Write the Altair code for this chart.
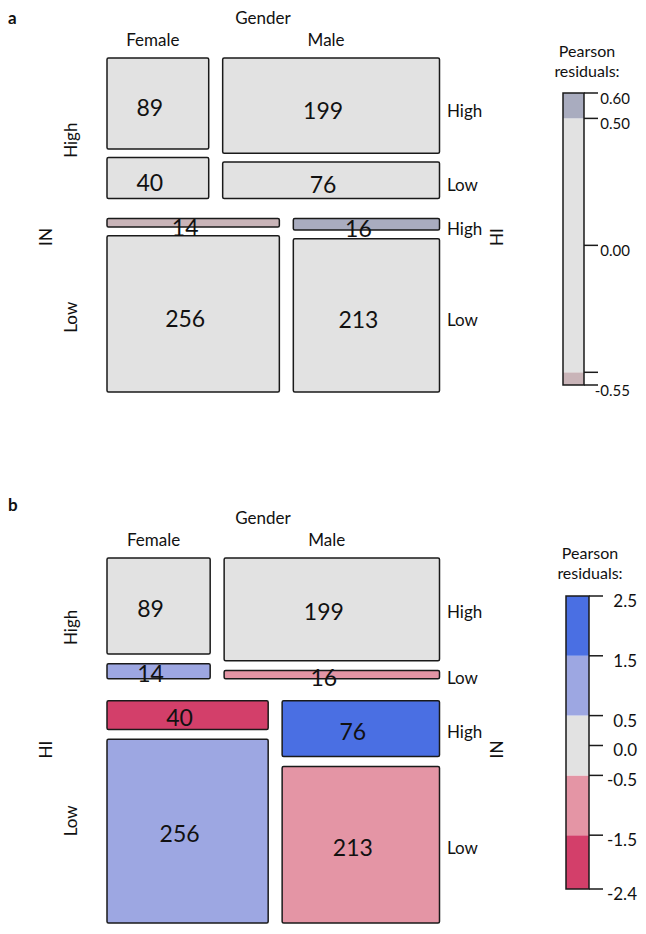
import altair as alt
import pandas as pd

FONT = "Lato"
INK = "#111111"

genders = ["Female", "Male"]
levels = ["High", "Low"]

# ---------------- Panel a: rows = IN, columns = Gender, sub-rows = HI
a_row = ["High", "High", "High", "High", "Low", "Low", "Low", "Low"]
a_gender = ["Female", "Female", "Male", "Male", "Female", "Female", "Male", "Male"]
a_sub = ["High", "Low", "High", "Low", "High", "Low", "High", "Low"]
a_count = [89, 40, 199, 76, 14, 256, 16, 213]
a_resid = [-0.31, 0.49, 0.21, -0.33, -0.55, 0.14, 0.60, -0.15]

# ---------------- Panel b: rows = HI, columns = Gender, sub-rows = IN
b_row = ["High", "High", "High", "High", "Low", "Low", "Low", "Low"]
b_gender = ["Female", "Female", "Male", "Male", "Female", "Female", "Male", "Male"]
b_sub = ["High", "Low", "High", "Low", "High", "Low", "High", "Low"]
b_count = [89, 14, 199, 16, 40, 256, 76, 213]
b_resid = [-0.44, 1.37, 0.31, -0.95, -2.44, 1.21, 2.47, -1.23]

# ---------------- shading legends
a_breaks = [-0.5, 0.5]
a_colors = ["#C9B4B8", "#E2E2E2", "#A9ACBF"]
a_edges = [-0.55, -0.5, 0.5, 0.6]
a_ticks = [0.6, 0.5, 0.0, -0.5, -0.55]
a_tick_labels = ["0.60", "0.50", "0.00", "", "-0.55"]

b_breaks = [-1.5, -0.5, 0.5, 1.5]
b_colors = ["#D33F6A", "#E495A5", "#E2E2E2", "#9DA7E2", "#4A6FE3"]
b_edges = [-2.4, -1.5, -0.5, 0.5, 1.5, 2.5]
b_ticks = [2.5, 1.5, 0.5, 0.0, -0.5, -1.5, -2.4]
b_tick_labels = ["2.5", "1.5", "0.5", "0.0", "-0.5", "-1.5", "-2.4"]

legend_title = ["Pearson", "residuals:"]


def mosaic_layout(rows, gend, subs, counts, resid, row_gap, col_gap, sub_gap):
    df = pd.DataFrame({"row": rows, "gender": gend, "sub": subs, "n": counts, "resid": resid})
    total = df["n"].sum()
    recs = []
    y = 0.0
    avail_h = 1.0 - row_gap * (len(levels) - 1)
    for r in levels:
        dr = df[df["row"] == r]
        rh = avail_h * dr["n"].sum() / total
        x = 0.0
        avail_w = 1.0 - col_gap * (len(genders) - 1)
        for g in genders:
            dg = dr[dr["gender"] == g]
            w = avail_w * dg["n"].sum() / dr["n"].sum()
            yy = y
            avail_s = rh - sub_gap * (len(levels) - 1)
            for s in levels:
                ds = dg[dg["sub"] == s].iloc[0]
                h = avail_s * ds["n"] / dg["n"].sum()
                recs.append(dict(row=r, gender=g, sub=s, n=int(ds["n"]), resid=float(ds["resid"]),
                                 x=x, x2=x + w, y=yy, y2=yy + h,
                                 cx=x + w / 2, cy=yy + h / 2,
                                 rtop=y, rbot=y + rh))
                yy += h + sub_gap
            x += w + col_gap
        y += rh + row_gap
    return pd.DataFrame(recs)


X0, X1 = 99, 431.5


def panel(df, row_name, sub_name, top, bottom, breaks, colors, tag, tag_y, rot_shift, side_dy):
    xs = alt.Scale(domain=[0, 1], range=[X0, X1])
    ys = alt.Scale(domain=[0, 1], range=[top, bottom])
    cs = alt.Scale(type="threshold", domain=breaks, range=colors)
    base = alt.Chart(df)
    rects = base.mark_rect(stroke="#1a1a1a", strokeWidth=1.5, cornerRadius=1.5).encode(
        x=alt.X("x:Q", scale=xs, axis=None), x2="x2:Q",
        y=alt.Y("y:Q", scale=ys, axis=None), y2="y2:Q",
        color=alt.Color("resid:Q", scale=cs, legend=None),
    )
    nums = base.mark_text(font=FONT, fontSize=23, color=INK, dx=-8, dy=side_dy, baseline="middle").encode(
        x=alt.X("cx:Q", scale=xs, axis=None),
        y=alt.Y("cy:Q", scale=ys, axis=None),
        text="n:Q",
    )
    rowdf = df.groupby("row", as_index=False).agg(rtop=("rtop", "first"), rbot=("rbot", "first"))
    rowdf["rc"] = (rowdf["rtop"] + rowdf["rbot"]) / 2
    # with angle 270, a negative dx moves the text downwards on the page
    row_lab = alt.Chart(rowdf).mark_text(font=FONT, fontSize=17, color=INK, angle=270, dx=-rot_shift,
                                         baseline="middle", align="center").encode(
        x=alt.value(64), y=alt.Y("rc:Q", scale=ys, axis=None), text="row:N")
    vdf = pd.DataFrame({"name": [row_name, sub_name], "pos": [0.5, 0.5]})
    row_var = alt.Chart(vdf.iloc[[0]]).mark_text(font=FONT, fontSize=17, color=INK, angle=270,
                                                 dx=-rot_shift, baseline="middle", align="center").encode(
        x=alt.value(39), y=alt.Y("pos:Q", scale=ys, axis=None), text="name:N")
    sub_var = alt.Chart(vdf.iloc[[1]]).mark_text(font=FONT, fontSize=17, color=INK, angle=270,
                                                 dx=-rot_shift, baseline="middle", align="center").encode(
        x=alt.value(490), y=alt.Y("pos:Q", scale=ys, axis=None), text="name:N")
    male = df[df["gender"] == genders[-1]]
    right_lab = alt.Chart(male).mark_text(font=FONT, fontSize=17, color=INK, align="left",
                                          baseline="middle", dy=side_dy).encode(
        x=alt.value(439), y=alt.Y("cy:Q", scale=ys, axis=None), text="sub:N")
    toprow = df[(df["row"] == levels[0]) & (df["sub"] == levels[0])]
    top_lab = alt.Chart(toprow).mark_text(font=FONT, fontSize=17, color=INK, baseline="middle",
                                          dx=-5).encode(
        x=alt.X("cx:Q", scale=xs, axis=None), y=alt.value(top - 17), text="gender:N")
    gtitle = alt.Chart(pd.DataFrame({"t": ["Gender"]})).mark_text(
        font=FONT, fontSize=17, color=INK, baseline="middle").encode(
        x=alt.value(255), y=alt.value(top - 39), text="t:N")
    tagc = alt.Chart(pd.DataFrame({"t": [tag]})).mark_text(
        font=FONT, fontSize=17, fontWeight="bold", color=INK, align="left", baseline="middle").encode(
        x=alt.value(0), y=alt.value(tag_y), text="t:N")
    return [rects, nums, row_lab, row_var, sub_var, right_lab, top_lab, gtitle, tagc]


def legend(edges, ticks, tick_labels, breaks, colors, xb0, xb1, ytop, ybot, xlab, lab_size, title_x, title_y):
    ls = alt.Scale(domain=[edges[0], edges[-1]], range=[ybot, ytop])
    cs = alt.Scale(type="threshold", domain=breaks, range=colors)
    bins = pd.DataFrame({"lo": edges[:-1], "hi": edges[1:]})
    bins["mid"] = (bins["lo"] + bins["hi"]) / 2
    bar = alt.Chart(bins).mark_rect().encode(
        x=alt.value(xb0), x2=alt.value(xb1),
        y=alt.Y("lo:Q", scale=ls, axis=None), y2="hi:Q",
        color=alt.Color("mid:Q", scale=cs, legend=None))
    outline = alt.Chart(pd.DataFrame({"lo": [edges[0]], "hi": [edges[-1]]})).mark_rect(
        fillOpacity=0, stroke="#1a1a1a", strokeWidth=1.5).encode(
        x=alt.value(xb0), x2=alt.value(xb1),
        y=alt.Y("lo:Q", scale=ls, axis=None), y2="hi:Q")
    tdf = pd.DataFrame({"v": ticks, "lab": tick_labels})
    tk = alt.Chart(tdf).mark_rule(color="#1a1a1a", strokeWidth=1.5).encode(
        x=alt.value(xb1), x2=alt.value(xb1 + 14),
        y=alt.Y("v:Q", scale=ls, axis=None))
    tl = alt.Chart(tdf).mark_text(font=FONT, fontSize=lab_size, color=INK, align="right",
                                  baseline="middle", dy=6).encode(
        x=alt.value(xlab), y=alt.Y("v:Q", scale=ls, axis=None), text="lab:N")
    t1 = alt.Chart(pd.DataFrame({"t": [legend_title[0]]})).mark_text(
        font=FONT, fontSize=16, color=INK, align="center", baseline="middle").encode(
        x=alt.value(title_x), y=alt.value(title_y - 10), text="t:N")
    t2 = alt.Chart(pd.DataFrame({"t": [legend_title[1]]})).mark_text(
        font=FONT, fontSize=16, color=INK, align="center", baseline="middle").encode(
        x=alt.value(title_x), y=alt.value(title_y + 10), text="t:N")
    return [bar, outline, tk, tl, t1, t2]


dfa = mosaic_layout(a_row, a_gender, a_sub, a_count, a_resid, 0.06, 0.042, 0.026)
dfb = mosaic_layout(b_row, b_gender, b_sub, b_count, b_resid, 0.06, 0.042, 0.027)

layers = []
layers += panel(dfa, "IN", "HI", 50, 384, a_breaks, a_colors, "a", 11, 12, 6)
layers += panel(dfb, "HI", "IN", 550, 915, b_breaks, b_colors, "b", 498, 9, 4)
layers += legend(a_edges, a_ticks, a_tick_labels, a_breaks, a_colors, 555, 576, 85, 377, 622, 15, 579, 54)
layers += legend(b_edges, b_ticks, b_tick_labels, b_breaks, b_colors, 558, 581, 588, 881, 629, 17, 582, 556)

chart = alt.layer(*layers).resolve_scale(
    x="independent", y="independent", color="independent"
).properties(
    width=630, height=916, padding=0,
    autosize=alt.AutoSizeParams(type="none"),
).configure_view(stroke=None)

chart.save("out.html", embed_options={"renderer": "svg", "actions": False})
